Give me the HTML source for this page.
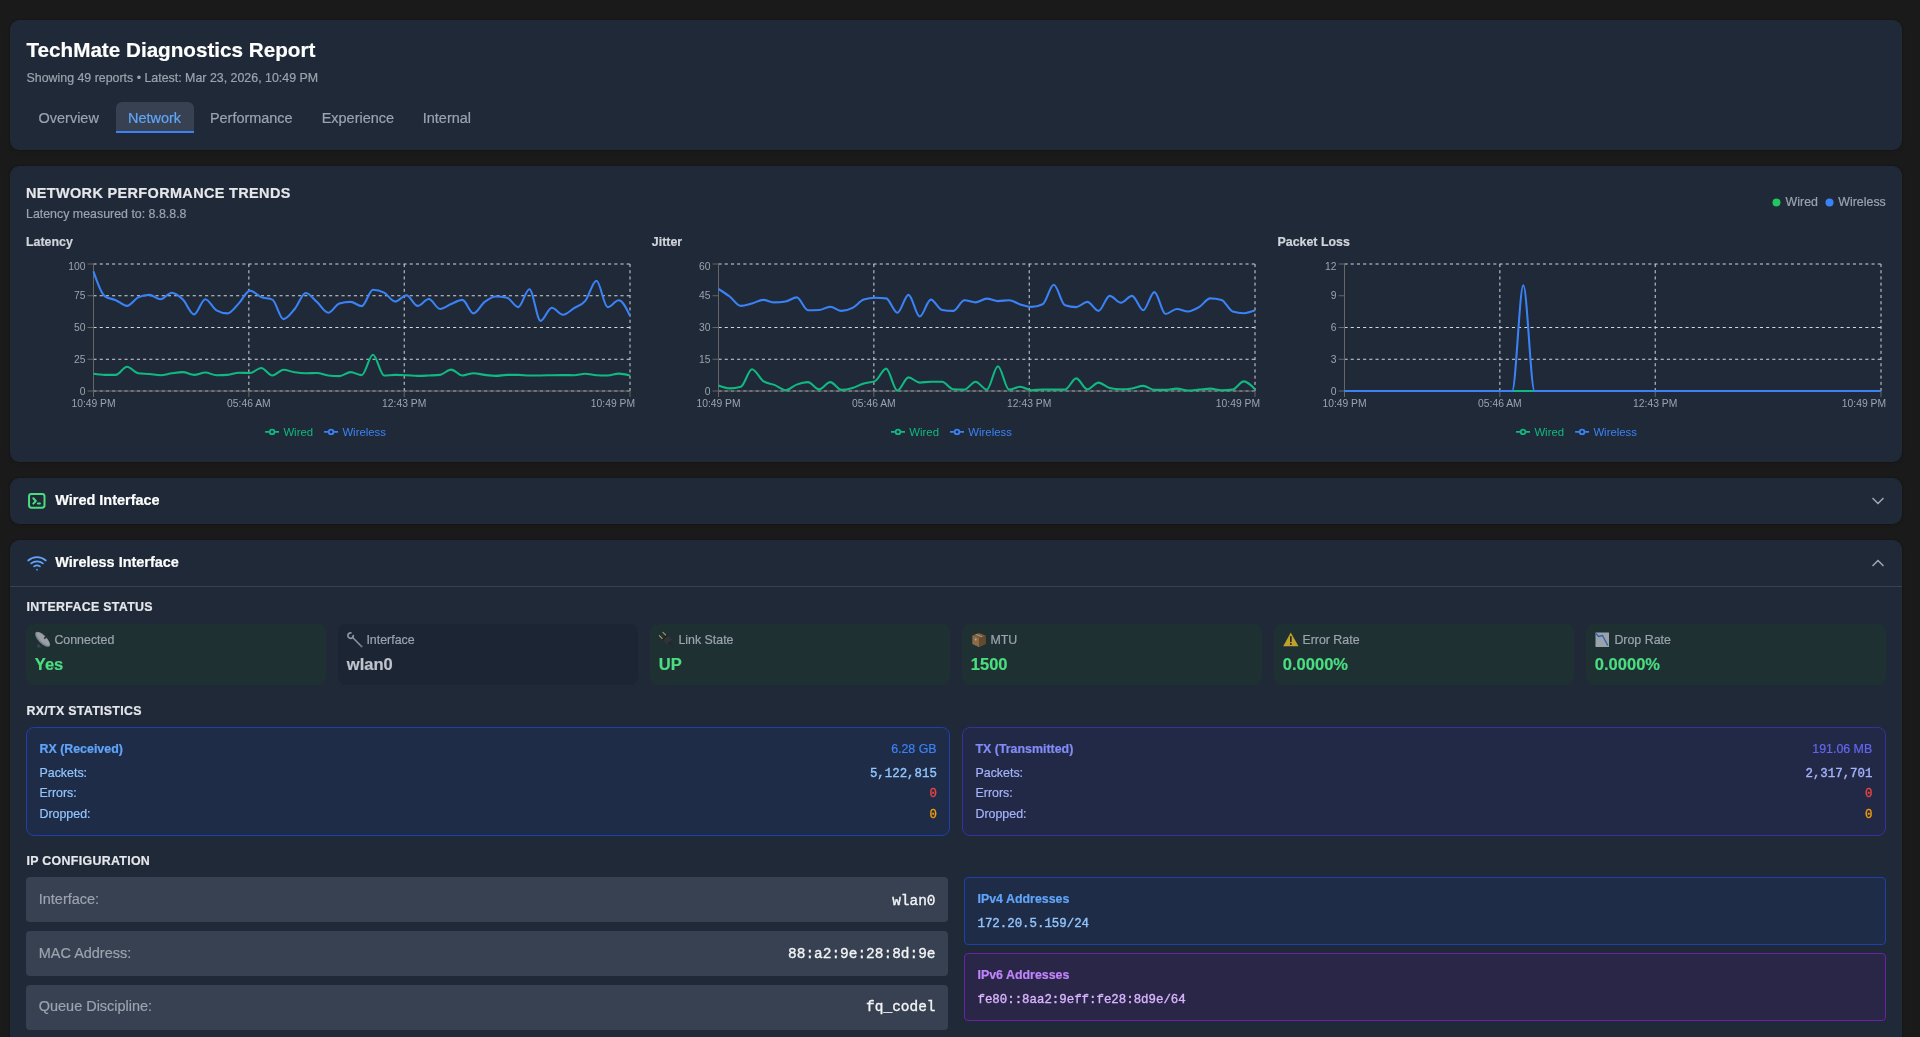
<!DOCTYPE html>
<html><head><meta charset="utf-8"><title>TechMate Diagnostics Report</title>
<style>
html,body{margin:0;padding:0;}
body{background:#1a1a1a;width:1920px;height:1037px;overflow:hidden;position:relative;font-family:'Liberation Sans', sans-serif;}
.t{position:absolute;white-space:pre;}
.r{position:absolute;}
#root{position:absolute;left:0;top:0;width:1920px;height:1037px;will-change:transform;}
svg.r{overflow:visible;}
</style></head><body><div id="root">
<div class="r" style="left:10px;top:20px;width:1892px;height:130px;background:#1f2937;border-radius:9px;box-shadow:0 0 1.5px rgba(0,0,0,0.45),0 1px 3px rgba(0,0,0,0.12);"></div>
<div class="t" style="top:39.81px;font-size:20.666px;line-height:20.666px;color:#ffffff;font-weight:700;font-family:'Liberation Sans', sans-serif;-webkit-text-stroke:0.2px currentColor;left:26.50px;">TechMate Diagnostics Report</div>
<div class="t" style="top:72.30px;font-size:12.4px;line-height:12.4px;color:#9ca3af;font-weight:400;font-family:'Liberation Sans', sans-serif;-webkit-text-stroke:0.2px currentColor;left:26.50px;">Showing 49 reports &bull; Latest: Mar 23, 2026, 10:49 PM</div>
<div class="r" style="left:115.6px;top:102.3px;width:78.4px;height:31.0px;background:#374151;border-radius:0px;border-radius:6px 6px 0 0;"></div>
<div class="r" style="left:115.6px;top:131.3px;width:78.4px;height:2px;background:#3b82f6;border-radius:0px;"></div>
<div class="t" style="top:110.65px;font-size:14.466px;line-height:14.466px;color:#9ca3af;font-weight:400;font-family:'Liberation Sans', sans-serif;-webkit-text-stroke:0.2px currentColor;left:38.60px;">Overview</div>
<div class="t" style="top:110.65px;font-size:14.466px;line-height:14.466px;color:#60a5fa;font-weight:400;font-family:'Liberation Sans', sans-serif;-webkit-text-stroke:0.2px currentColor;left:128.10px;">Network</div>
<div class="t" style="top:110.65px;font-size:14.466px;line-height:14.466px;color:#9ca3af;font-weight:400;font-family:'Liberation Sans', sans-serif;-webkit-text-stroke:0.2px currentColor;left:209.90px;">Performance</div>
<div class="t" style="top:110.65px;font-size:14.466px;line-height:14.466px;color:#9ca3af;font-weight:400;font-family:'Liberation Sans', sans-serif;-webkit-text-stroke:0.2px currentColor;left:321.70px;">Experience</div>
<div class="t" style="top:110.65px;font-size:14.466px;line-height:14.466px;color:#9ca3af;font-weight:400;font-family:'Liberation Sans', sans-serif;-webkit-text-stroke:0.2px currentColor;left:422.80px;">Internal</div>
<div class="r" style="left:10px;top:166px;width:1892px;height:296px;background:#1f2937;border-radius:9px;box-shadow:0 0 1.5px rgba(0,0,0,0.45),0 1px 3px rgba(0,0,0,0.12);"></div>
<div class="t" style="top:185.55px;font-size:14.466px;line-height:14.466px;color:#e5e7eb;font-weight:700;font-family:'Liberation Sans', sans-serif;letter-spacing:0.36px;-webkit-text-stroke:0.2px currentColor;left:26.00px;">NETWORK PERFORMANCE TRENDS</div>
<div class="t" style="top:207.70px;font-size:12.4px;line-height:12.4px;color:#9ca3af;font-weight:400;font-family:'Liberation Sans', sans-serif;-webkit-text-stroke:0.2px currentColor;left:26.00px;">Latency measured to: 8.8.8.8</div>
<svg class="r" style="left:1772.1px;top:197.9px;" width="9" height="9" viewBox="0 0 9 9"><circle cx="4.5" cy="4.5" r="4" fill="#22c55e"/></svg>
<div class="t" style="top:196.20px;font-size:12.4px;line-height:12.4px;color:#9ca3af;font-weight:400;font-family:'Liberation Sans', sans-serif;-webkit-text-stroke:0.2px currentColor;left:1785.60px;">Wired</div>
<svg class="r" style="left:1825.2px;top:197.9px;" width="9" height="9" viewBox="0 0 9 9"><circle cx="4.5" cy="4.5" r="4" fill="#3b82f6"/></svg>
<div class="t" style="top:196.20px;font-size:12.4px;line-height:12.4px;color:#9ca3af;font-weight:400;font-family:'Liberation Sans', sans-serif;-webkit-text-stroke:0.2px currentColor;left:1838.30px;">Wireless</div>
<div class="t" style="top:235.90px;font-size:12.4px;line-height:12.4px;color:#d1d5db;font-weight:700;font-family:'Liberation Sans', sans-serif;-webkit-text-stroke:0.2px currentColor;left:26.00px;">Latency</div>
<div class="t" style="top:235.90px;font-size:12.4px;line-height:12.4px;color:#d1d5db;font-weight:700;font-family:'Liberation Sans', sans-serif;-webkit-text-stroke:0.2px currentColor;left:651.80px;">Jitter</div>
<div class="t" style="top:235.90px;font-size:12.4px;line-height:12.4px;color:#d1d5db;font-weight:700;font-family:'Liberation Sans', sans-serif;-webkit-text-stroke:0.2px currentColor;left:1277.50px;">Packet Loss</div>
<svg class="r" style="left:0;top:0;overflow:visible" width="1920" height="1037" viewBox="0 0 1920 1037"><g stroke="#d5d7dc" stroke-dasharray="3.1 3.1" fill="none"><line x1="93.5" y1="391.0" x2="630.0" y2="391.0"/><line x1="93.5" y1="359.25" x2="630.0" y2="359.25"/><line x1="93.5" y1="327.5" x2="630.0" y2="327.5"/><line x1="93.5" y1="295.75" x2="630.0" y2="295.75"/><line x1="93.5" y1="264.0" x2="630.0" y2="264.0"/><line x1="93.50" y1="264.0" x2="93.50" y2="391.0"/><line x1="248.86" y1="264.0" x2="248.86" y2="391.0"/><line x1="404.22" y1="264.0" x2="404.22" y2="391.0"/><line x1="630.00" y1="264.0" x2="630.00" y2="391.0"/></g><g stroke="#666666" fill="none"><line x1="93.5" y1="391.0" x2="630.0" y2="391.0"/><line x1="93.5" y1="264.0" x2="93.5" y2="391.0"/><line x1="87.5" y1="391.0" x2="93.5" y2="391.0"/><line x1="87.5" y1="359.25" x2="93.5" y2="359.25"/><line x1="87.5" y1="327.5" x2="93.5" y2="327.5"/><line x1="87.5" y1="295.75" x2="93.5" y2="295.75"/><line x1="87.5" y1="264.0" x2="93.5" y2="264.0"/><line x1="93.50" y1="391.0" x2="93.50" y2="397.0"/><line x1="248.86" y1="391.0" x2="248.86" y2="397.0"/><line x1="404.22" y1="391.0" x2="404.22" y2="397.0"/><line x1="630.00" y1="391.0" x2="630.00" y2="397.0"/></g><g fill="#9ca3af" font-size="10.33" font-family="'Liberation Sans', sans-serif"><text x="85.5" y="394.55" text-anchor="end">0</text><text x="85.5" y="362.80" text-anchor="end">25</text><text x="85.5" y="331.05" text-anchor="end">50</text><text x="85.5" y="299.30" text-anchor="end">75</text><text x="85.5" y="270.45" text-anchor="end">100</text><text x="93.50" y="407.2" text-anchor="middle">10:49 PM</text><text x="248.86" y="407.2" text-anchor="middle">05:46 AM</text><text x="404.22" y="407.2" text-anchor="middle">12:43 PM</text><text x="635.00" y="407.2" text-anchor="end">10:49 PM</text></g><path d="M93.50,373.80C97.23,374.35,100.95,374.90,104.68,374.90C108.40,374.90,112.13,374.90,115.85,374.90C119.58,374.90,123.31,366.70,127.03,366.70C130.76,366.70,134.48,372.83,138.21,373.30C141.93,373.77,145.66,373.68,149.39,374.00C153.11,374.32,156.84,375.20,160.56,375.20C164.29,375.20,168.01,373.82,171.74,373.30C175.47,372.78,179.19,372.10,182.92,372.10C186.64,372.10,190.37,374.90,194.09,374.90C197.82,374.90,201.55,372.50,205.27,372.50C209.00,372.50,212.72,375.20,216.45,375.20C220.17,375.20,223.90,375.10,227.62,374.90C231.35,374.70,235.08,372.70,238.80,372.70C242.53,372.70,246.25,373.00,249.98,373.00C253.70,373.00,257.43,368.00,261.16,368.00C264.88,368.00,268.61,375.50,272.33,375.50C276.06,375.50,279.78,369.80,283.51,369.80C287.24,369.80,290.96,371.72,294.69,372.30C298.41,372.88,302.14,373.30,305.86,373.30C309.59,373.30,313.32,373.00,317.04,373.00C320.77,373.00,324.49,375.10,328.22,375.50C331.94,375.90,335.67,376.10,339.40,376.10C343.12,376.10,346.85,372.10,350.57,372.10C354.30,372.10,358.02,375.10,361.75,375.10C365.48,375.10,369.20,354.80,372.93,354.80C376.65,354.80,380.38,375.50,384.10,375.50C387.83,375.50,391.56,374.90,395.28,374.90C399.01,374.90,402.73,375.03,406.46,375.20C410.18,375.37,413.91,375.90,417.64,375.90C421.36,375.90,425.09,375.67,428.81,375.50C432.54,375.33,436.26,375.30,439.99,374.90C443.72,374.50,447.44,369.60,451.17,369.60C454.89,369.60,458.62,375.50,462.34,375.50C466.07,375.50,469.80,373.20,473.52,373.20C477.25,373.20,480.97,374.45,484.70,374.90C488.42,375.35,492.15,375.90,495.88,375.90C499.60,375.90,503.33,374.90,507.05,374.90C510.78,374.90,514.50,374.90,518.23,374.90C521.95,374.90,525.68,375.50,529.41,375.50C533.13,375.50,536.86,375.50,540.58,375.50C544.31,375.50,548.03,375.27,551.76,375.20C555.49,375.13,559.21,375.10,562.94,375.10C566.66,375.10,570.39,375.20,574.11,375.20C577.84,375.20,581.57,373.80,585.29,373.80C589.02,373.80,592.74,375.00,596.47,375.20C600.19,375.40,603.92,375.50,607.65,375.50C611.37,375.50,615.10,373.60,618.82,373.60C622.55,373.60,626.27,374.55,630.00,375.50" fill="none" stroke="#10b981" stroke-width="2.07"/><path d="M93.50,271.40C97.23,282.38,100.95,293.37,104.68,296.10C108.40,298.83,112.13,298.57,115.85,300.20C119.58,301.83,123.31,305.90,127.03,305.90C130.76,305.90,134.48,299.07,138.21,297.40C141.93,295.73,145.66,294.90,149.39,294.90C153.11,294.90,156.84,299.20,160.56,299.20C164.29,299.20,168.01,292.70,171.74,292.70C175.47,292.70,179.19,295.98,182.92,299.60C186.64,303.22,190.37,314.40,194.09,314.40C197.82,314.40,201.55,299.20,205.27,299.20C209.00,299.20,212.72,308.23,216.45,310.30C220.17,312.37,223.90,313.40,227.62,313.40C231.35,313.40,235.08,307.20,238.80,303.40C242.53,299.60,246.25,290.60,249.98,290.60C253.70,290.60,257.43,295.60,261.16,297.10C264.88,298.60,268.61,297.93,272.33,299.60C276.06,301.27,279.78,319.10,283.51,319.10C287.24,319.10,290.96,313.35,294.69,309.00C298.41,304.65,302.14,293.00,305.86,293.00C309.59,293.00,313.32,298.80,317.04,302.10C320.77,305.40,324.49,312.80,328.22,312.80C331.94,312.80,335.67,304.40,339.40,303.40C343.12,302.40,346.85,301.90,350.57,301.90C354.30,301.90,358.02,306.10,361.75,306.10C365.48,306.10,369.20,289.80,372.93,289.80C376.65,289.80,380.38,290.77,384.10,292.70C387.83,294.63,391.56,301.50,395.28,301.50C399.01,301.50,402.73,295.20,406.46,295.20C410.18,295.20,413.91,305.90,417.64,305.90C421.36,305.90,425.09,299.00,428.81,299.00C432.54,299.00,436.26,309.00,439.99,309.00C443.72,309.00,447.44,305.52,451.17,304.00C454.89,302.48,458.62,299.90,462.34,299.90C466.07,299.90,469.80,313.40,473.52,313.40C477.25,313.40,480.97,304.72,484.70,301.90C488.42,299.08,492.15,296.50,495.88,296.50C499.60,296.50,503.33,296.90,507.05,297.70C510.78,298.50,514.50,307.10,518.23,307.10C521.95,307.10,525.68,289.30,529.41,289.30C533.13,289.30,536.86,320.90,540.58,320.90C544.31,320.90,548.03,307.80,551.76,307.80C555.49,307.80,559.21,314.70,562.94,314.70C566.66,314.70,570.39,310.40,574.11,308.10C577.84,305.80,581.57,305.45,585.29,300.90C589.02,296.35,592.74,280.80,596.47,280.80C600.19,280.80,603.92,307.10,607.65,307.10C611.37,307.10,615.10,300.20,618.82,300.20C622.55,300.20,626.27,308.05,630.00,315.90" fill="none" stroke="#3b82f6" stroke-width="2.07"/><svg x="265.10" y="424.90" width="14" height="14" viewBox="0 0 32 32"><path stroke-width="4" fill="none" stroke="#10b981" d="M0,16h10.666666666666666A5.333333333333333,5.333333333333333,0,1,1,21.333333333333332,16H32M21.333333333333332,16A5.333333333333333,5.333333333333333,0,1,1,10.666666666666666,16"/></svg><text x="283.40" y="435.9" fill="#10b981" font-size="11.37" font-family="'Liberation Sans', sans-serif">Wired</text><svg x="324.10" y="424.90" width="14" height="14" viewBox="0 0 32 32"><path stroke-width="4" fill="none" stroke="#3b82f6" d="M0,16h10.666666666666666A5.333333333333333,5.333333333333333,0,1,1,21.333333333333332,16H32M21.333333333333332,16A5.333333333333333,5.333333333333333,0,1,1,10.666666666666666,16"/></svg><text x="342.40" y="435.9" fill="#3b82f6" font-size="11.37" font-family="'Liberation Sans', sans-serif">Wireless</text><g stroke="#d5d7dc" stroke-dasharray="3.1 3.1" fill="none"><line x1="718.5" y1="391.0" x2="1255.0" y2="391.0"/><line x1="718.5" y1="359.25" x2="1255.0" y2="359.25"/><line x1="718.5" y1="327.5" x2="1255.0" y2="327.5"/><line x1="718.5" y1="264.0" x2="1255.0" y2="264.0"/><line x1="718.50" y1="264.0" x2="718.50" y2="391.0"/><line x1="873.86" y1="264.0" x2="873.86" y2="391.0"/><line x1="1029.22" y1="264.0" x2="1029.22" y2="391.0"/><line x1="1255.00" y1="264.0" x2="1255.00" y2="391.0"/></g><g stroke="#666666" fill="none"><line x1="718.5" y1="391.0" x2="1255.0" y2="391.0"/><line x1="718.5" y1="264.0" x2="718.5" y2="391.0"/><line x1="712.5" y1="391.0" x2="718.5" y2="391.0"/><line x1="712.5" y1="359.25" x2="718.5" y2="359.25"/><line x1="712.5" y1="327.5" x2="718.5" y2="327.5"/><line x1="712.5" y1="295.75" x2="718.5" y2="295.75"/><line x1="712.5" y1="264.0" x2="718.5" y2="264.0"/><line x1="718.50" y1="391.0" x2="718.50" y2="397.0"/><line x1="873.86" y1="391.0" x2="873.86" y2="397.0"/><line x1="1029.22" y1="391.0" x2="1029.22" y2="397.0"/><line x1="1255.00" y1="391.0" x2="1255.00" y2="397.0"/></g><g fill="#9ca3af" font-size="10.33" font-family="'Liberation Sans', sans-serif"><text x="710.5" y="394.55" text-anchor="end">0</text><text x="710.5" y="362.80" text-anchor="end">15</text><text x="710.5" y="331.05" text-anchor="end">30</text><text x="710.5" y="299.30" text-anchor="end">45</text><text x="710.5" y="270.45" text-anchor="end">60</text><text x="718.50" y="407.2" text-anchor="middle">10:49 PM</text><text x="873.86" y="407.2" text-anchor="middle">05:46 AM</text><text x="1029.22" y="407.2" text-anchor="middle">12:43 PM</text><text x="1260.00" y="407.2" text-anchor="end">10:49 PM</text></g><path d="M718.50,385.50C722.23,386.95,725.95,388.40,729.68,388.40C733.40,388.40,737.13,387.87,740.85,386.80C744.58,385.73,748.31,369.20,752.03,369.20C755.76,369.20,759.48,378.57,763.21,381.10C766.93,383.63,770.66,383.38,774.39,384.90C778.11,386.42,781.84,390.20,785.56,390.20C789.29,390.20,793.01,385.95,796.74,384.60C800.47,383.25,804.19,382.10,807.92,382.10C811.64,382.10,815.37,389.30,819.09,389.30C822.82,389.30,826.55,382.10,830.27,382.10C834.00,382.10,837.72,389.90,841.45,389.90C845.17,389.90,848.90,389.08,852.62,388.00C856.35,386.92,860.08,384.55,863.80,383.40C867.53,382.25,871.25,382.63,874.98,381.10C878.70,379.57,882.43,368.60,886.16,368.60C889.88,368.60,893.61,390.50,897.33,390.50C901.06,390.50,904.78,377.40,908.51,377.40C912.24,377.40,915.96,382.60,919.69,382.60C923.41,382.60,927.14,381.70,930.86,381.70C934.59,381.70,938.32,381.70,942.04,381.70C945.77,381.70,949.49,389.10,953.22,389.30C956.94,389.50,960.67,389.60,964.40,389.60C968.12,389.60,971.85,381.70,975.57,381.70C979.30,381.70,983.02,389.60,986.75,389.60C990.48,389.60,994.20,366.30,997.93,366.30C1001.65,366.30,1005.38,389.60,1009.10,389.60C1012.83,389.60,1016.56,386.80,1020.28,386.80C1024.01,386.80,1027.73,390.20,1031.46,390.20C1035.18,390.20,1038.91,389.50,1042.64,389.50C1046.36,389.50,1050.09,389.60,1053.81,389.60C1057.54,389.60,1061.26,389.60,1064.99,389.60C1068.72,389.60,1072.44,378.40,1076.17,378.40C1079.89,378.40,1083.62,389.30,1087.34,389.30C1091.07,389.30,1094.80,382.60,1098.52,382.60C1102.25,382.60,1105.97,387.13,1109.70,388.00C1113.42,388.87,1117.15,389.30,1120.88,389.30C1124.60,389.30,1128.33,388.97,1132.05,388.40C1135.78,387.83,1139.50,385.90,1143.23,385.90C1146.95,385.90,1150.68,389.90,1154.41,389.90C1158.13,389.90,1161.86,389.90,1165.58,389.90C1169.31,389.90,1173.03,388.60,1176.76,388.60C1180.49,388.60,1184.21,390.50,1187.94,390.50C1191.66,390.50,1195.39,389.92,1199.11,389.60C1202.84,389.28,1206.57,388.60,1210.29,388.60C1214.02,388.60,1217.74,390.20,1221.47,390.20C1225.19,390.20,1228.92,390.00,1232.65,389.60C1236.37,389.20,1240.10,381.40,1243.82,381.40C1247.55,381.40,1251.27,385.35,1255.00,389.30" fill="none" stroke="#10b981" stroke-width="2.07"/><path d="M718.50,289.00C722.23,291.34,725.95,293.68,729.68,296.50C733.40,299.32,737.13,305.90,740.85,305.90C744.58,305.90,748.31,304.40,752.03,303.40C755.76,302.40,759.48,299.90,763.21,299.90C766.93,299.90,770.66,302.40,774.39,302.40C778.11,302.40,781.84,302.10,785.56,301.50C789.29,300.90,793.01,297.40,796.74,297.40C800.47,297.40,804.19,310.30,807.92,310.30C811.64,310.30,815.37,310.20,819.09,310.00C822.82,309.80,826.55,306.70,830.27,306.70C834.00,306.70,837.72,310.90,841.45,310.90C845.17,310.90,848.90,309.68,852.62,307.80C856.35,305.92,860.08,300.87,863.80,299.60C867.53,298.33,871.25,297.70,874.98,297.70C878.70,297.70,882.43,297.93,886.16,298.40C889.88,298.87,893.61,312.80,897.33,312.80C901.06,312.80,904.78,294.90,908.51,294.90C912.24,294.90,915.96,316.50,919.69,316.50C923.41,316.50,927.14,299.60,930.86,299.60C934.59,299.60,938.32,309.23,942.04,309.90C945.77,310.57,949.49,310.90,953.22,310.90C956.94,310.90,960.67,300.20,964.40,300.20C968.12,300.20,971.85,302.40,975.57,302.40C979.30,302.40,983.02,298.60,986.75,298.60C990.48,298.60,994.20,301.10,997.93,301.10C1001.65,301.10,1005.38,300.20,1009.10,300.20C1012.83,300.20,1016.56,303.28,1020.28,304.40C1024.01,305.52,1027.73,306.90,1031.46,306.90C1035.18,306.90,1038.91,306.03,1042.64,304.30C1046.36,302.57,1050.09,284.80,1053.81,284.80C1057.54,284.80,1061.26,304.10,1064.99,305.30C1068.72,306.50,1072.44,307.10,1076.17,307.10C1079.89,307.10,1083.62,301.90,1087.34,301.90C1091.07,301.90,1094.80,310.90,1098.52,310.90C1102.25,310.90,1105.97,295.90,1109.70,295.90C1113.42,295.90,1117.15,302.80,1120.88,302.80C1124.60,302.80,1128.33,295.90,1132.05,295.90C1135.78,295.90,1139.50,310.30,1143.23,310.30C1146.95,310.30,1150.68,292.10,1154.41,292.10C1158.13,292.10,1161.86,314.00,1165.58,314.00C1169.31,314.00,1173.03,309.00,1176.76,309.00C1180.49,309.00,1184.21,311.50,1187.94,311.50C1191.66,311.50,1195.39,309.28,1199.11,307.10C1202.84,304.92,1206.57,298.40,1210.29,298.40C1214.02,298.40,1217.74,298.90,1221.47,299.90C1225.19,300.90,1228.92,310.37,1232.65,311.50C1236.37,312.63,1240.10,313.20,1243.82,313.20C1247.55,313.20,1251.27,311.75,1255.00,310.30" fill="none" stroke="#3b82f6" stroke-width="2.07"/><svg x="891.00" y="424.90" width="14" height="14" viewBox="0 0 32 32"><path stroke-width="4" fill="none" stroke="#10b981" d="M0,16h10.666666666666666A5.333333333333333,5.333333333333333,0,1,1,21.333333333333332,16H32M21.333333333333332,16A5.333333333333333,5.333333333333333,0,1,1,10.666666666666666,16"/></svg><text x="909.30" y="435.9" fill="#10b981" font-size="11.37" font-family="'Liberation Sans', sans-serif">Wired</text><svg x="950.00" y="424.90" width="14" height="14" viewBox="0 0 32 32"><path stroke-width="4" fill="none" stroke="#3b82f6" d="M0,16h10.666666666666666A5.333333333333333,5.333333333333333,0,1,1,21.333333333333332,16H32M21.333333333333332,16A5.333333333333333,5.333333333333333,0,1,1,10.666666666666666,16"/></svg><text x="968.30" y="435.9" fill="#3b82f6" font-size="11.37" font-family="'Liberation Sans', sans-serif">Wireless</text><g stroke="#d5d7dc" stroke-dasharray="3.1 3.1" fill="none"><line x1="1344.5" y1="391.0" x2="1881.0" y2="391.0"/><line x1="1344.5" y1="359.25" x2="1881.0" y2="359.25"/><line x1="1344.5" y1="327.5" x2="1881.0" y2="327.5"/><line x1="1344.5" y1="264.0" x2="1881.0" y2="264.0"/><line x1="1344.50" y1="264.0" x2="1344.50" y2="391.0"/><line x1="1499.86" y1="264.0" x2="1499.86" y2="391.0"/><line x1="1655.22" y1="264.0" x2="1655.22" y2="391.0"/><line x1="1881.00" y1="264.0" x2="1881.00" y2="391.0"/></g><g stroke="#666666" fill="none"><line x1="1344.5" y1="391.0" x2="1881.0" y2="391.0"/><line x1="1344.5" y1="264.0" x2="1344.5" y2="391.0"/><line x1="1338.5" y1="391.0" x2="1344.5" y2="391.0"/><line x1="1338.5" y1="359.25" x2="1344.5" y2="359.25"/><line x1="1338.5" y1="327.5" x2="1344.5" y2="327.5"/><line x1="1338.5" y1="295.75" x2="1344.5" y2="295.75"/><line x1="1338.5" y1="264.0" x2="1344.5" y2="264.0"/><line x1="1344.50" y1="391.0" x2="1344.50" y2="397.0"/><line x1="1499.86" y1="391.0" x2="1499.86" y2="397.0"/><line x1="1655.22" y1="391.0" x2="1655.22" y2="397.0"/><line x1="1881.00" y1="391.0" x2="1881.00" y2="397.0"/></g><g fill="#9ca3af" font-size="10.33" font-family="'Liberation Sans', sans-serif"><text x="1336.5" y="394.55" text-anchor="end">0</text><text x="1336.5" y="362.80" text-anchor="end">3</text><text x="1336.5" y="331.05" text-anchor="end">6</text><text x="1336.5" y="299.30" text-anchor="end">9</text><text x="1336.5" y="270.45" text-anchor="end">12</text><text x="1344.50" y="407.2" text-anchor="middle">10:49 PM</text><text x="1499.86" y="407.2" text-anchor="middle">05:46 AM</text><text x="1655.22" y="407.2" text-anchor="middle">12:43 PM</text><text x="1886.00" y="407.2" text-anchor="end">10:49 PM</text></g><path d="M1344.50,391.00C1348.23,391.00,1351.95,391.00,1355.68,391.00C1359.40,391.00,1363.13,391.00,1366.85,391.00C1370.58,391.00,1374.31,391.00,1378.03,391.00C1381.76,391.00,1385.48,391.00,1389.21,391.00C1392.93,391.00,1396.66,391.00,1400.39,391.00C1404.11,391.00,1407.84,391.00,1411.56,391.00C1415.29,391.00,1419.01,391.00,1422.74,391.00C1426.47,391.00,1430.19,391.00,1433.92,391.00C1437.64,391.00,1441.37,391.00,1445.09,391.00C1448.82,391.00,1452.55,391.00,1456.27,391.00C1460.00,391.00,1463.72,391.00,1467.45,391.00C1471.17,391.00,1474.90,391.00,1478.62,391.00C1482.35,391.00,1486.08,391.00,1489.80,391.00C1493.53,391.00,1497.25,391.00,1500.98,391.00C1504.70,391.00,1508.43,391.00,1512.16,391.00C1515.88,391.00,1519.61,391.00,1523.33,391.00C1527.06,391.00,1530.78,391.00,1534.51,391.00C1538.24,391.00,1541.96,391.00,1545.69,391.00C1549.41,391.00,1553.14,391.00,1556.86,391.00C1560.59,391.00,1564.32,391.00,1568.04,391.00C1571.77,391.00,1575.49,391.00,1579.22,391.00C1582.94,391.00,1586.67,391.00,1590.40,391.00C1594.12,391.00,1597.85,391.00,1601.57,391.00C1605.30,391.00,1609.02,391.00,1612.75,391.00C1616.48,391.00,1620.20,391.00,1623.93,391.00C1627.65,391.00,1631.38,391.00,1635.10,391.00C1638.83,391.00,1642.56,391.00,1646.28,391.00C1650.01,391.00,1653.73,391.00,1657.46,391.00C1661.18,391.00,1664.91,391.00,1668.64,391.00C1672.36,391.00,1676.09,391.00,1679.81,391.00C1683.54,391.00,1687.26,391.00,1690.99,391.00C1694.72,391.00,1698.44,391.00,1702.17,391.00C1705.89,391.00,1709.62,391.00,1713.34,391.00C1717.07,391.00,1720.80,391.00,1724.52,391.00C1728.25,391.00,1731.97,391.00,1735.70,391.00C1739.42,391.00,1743.15,391.00,1746.88,391.00C1750.60,391.00,1754.33,391.00,1758.05,391.00C1761.78,391.00,1765.50,391.00,1769.23,391.00C1772.95,391.00,1776.68,391.00,1780.41,391.00C1784.13,391.00,1787.86,391.00,1791.58,391.00C1795.31,391.00,1799.03,391.00,1802.76,391.00C1806.49,391.00,1810.21,391.00,1813.94,391.00C1817.66,391.00,1821.39,391.00,1825.11,391.00C1828.84,391.00,1832.57,391.00,1836.29,391.00C1840.02,391.00,1843.74,391.00,1847.47,391.00C1851.19,391.00,1854.92,391.00,1858.65,391.00C1862.37,391.00,1866.10,391.00,1869.82,391.00C1873.55,391.00,1877.27,391.00,1881.00,391.00" fill="none" stroke="#10b981" stroke-width="2.07"/><path d="M1344.50,391.00C1348.23,391.00,1351.95,391.00,1355.68,391.00C1359.40,391.00,1363.13,391.00,1366.85,391.00C1370.58,391.00,1374.31,391.00,1378.03,391.00C1381.76,391.00,1385.48,391.00,1389.21,391.00C1392.93,391.00,1396.66,391.00,1400.39,391.00C1404.11,391.00,1407.84,391.00,1411.56,391.00C1415.29,391.00,1419.01,391.00,1422.74,391.00C1426.47,391.00,1430.19,391.00,1433.92,391.00C1437.64,391.00,1441.37,391.00,1445.09,391.00C1448.82,391.00,1452.55,391.00,1456.27,391.00C1460.00,391.00,1463.72,391.00,1467.45,391.00C1471.17,391.00,1474.90,391.00,1478.62,391.00C1482.35,391.00,1486.08,391.00,1489.80,391.00C1493.53,391.00,1497.25,391.00,1500.98,391.00C1504.70,391.00,1508.43,391.00,1512.16,391.00C1515.88,391.00,1519.61,285.20,1523.33,285.20C1527.06,285.20,1530.78,391.00,1534.51,391.00C1538.24,391.00,1541.96,391.00,1545.69,391.00C1549.41,391.00,1553.14,391.00,1556.86,391.00C1560.59,391.00,1564.32,391.00,1568.04,391.00C1571.77,391.00,1575.49,391.00,1579.22,391.00C1582.94,391.00,1586.67,391.00,1590.40,391.00C1594.12,391.00,1597.85,391.00,1601.57,391.00C1605.30,391.00,1609.02,391.00,1612.75,391.00C1616.48,391.00,1620.20,391.00,1623.93,391.00C1627.65,391.00,1631.38,391.00,1635.10,391.00C1638.83,391.00,1642.56,391.00,1646.28,391.00C1650.01,391.00,1653.73,391.00,1657.46,391.00C1661.18,391.00,1664.91,391.00,1668.64,391.00C1672.36,391.00,1676.09,391.00,1679.81,391.00C1683.54,391.00,1687.26,391.00,1690.99,391.00C1694.72,391.00,1698.44,391.00,1702.17,391.00C1705.89,391.00,1709.62,391.00,1713.34,391.00C1717.07,391.00,1720.80,391.00,1724.52,391.00C1728.25,391.00,1731.97,391.00,1735.70,391.00C1739.42,391.00,1743.15,391.00,1746.88,391.00C1750.60,391.00,1754.33,391.00,1758.05,391.00C1761.78,391.00,1765.50,391.00,1769.23,391.00C1772.95,391.00,1776.68,391.00,1780.41,391.00C1784.13,391.00,1787.86,391.00,1791.58,391.00C1795.31,391.00,1799.03,391.00,1802.76,391.00C1806.49,391.00,1810.21,391.00,1813.94,391.00C1817.66,391.00,1821.39,391.00,1825.11,391.00C1828.84,391.00,1832.57,391.00,1836.29,391.00C1840.02,391.00,1843.74,391.00,1847.47,391.00C1851.19,391.00,1854.92,391.00,1858.65,391.00C1862.37,391.00,1866.10,391.00,1869.82,391.00C1873.55,391.00,1877.27,391.00,1881.00,391.00" fill="none" stroke="#3b82f6" stroke-width="2.07"/><svg x="1516.10" y="424.90" width="14" height="14" viewBox="0 0 32 32"><path stroke-width="4" fill="none" stroke="#10b981" d="M0,16h10.666666666666666A5.333333333333333,5.333333333333333,0,1,1,21.333333333333332,16H32M21.333333333333332,16A5.333333333333333,5.333333333333333,0,1,1,10.666666666666666,16"/></svg><text x="1534.40" y="435.9" fill="#10b981" font-size="11.37" font-family="'Liberation Sans', sans-serif">Wired</text><svg x="1575.10" y="424.90" width="14" height="14" viewBox="0 0 32 32"><path stroke-width="4" fill="none" stroke="#3b82f6" d="M0,16h10.666666666666666A5.333333333333333,5.333333333333333,0,1,1,21.333333333333332,16H32M21.333333333333332,16A5.333333333333333,5.333333333333333,0,1,1,10.666666666666666,16"/></svg><text x="1593.40" y="435.9" fill="#3b82f6" font-size="11.37" font-family="'Liberation Sans', sans-serif">Wireless</text></svg>
<div class="r" style="left:10px;top:478px;width:1892px;height:46px;background:#1f2937;border-radius:9px;box-shadow:0 0 1.5px rgba(0,0,0,0.45),0 1px 3px rgba(0,0,0,0.12);"></div>
<svg class="r" style="left:0px;top:0px;" width="60" height="520" viewBox="0 0 60 520"><g fill="none" stroke="#4ade80" stroke-width="2" stroke-linecap="round" stroke-linejoin="round"><rect x="29.05" y="494.05" width="15.45" height="13.65" rx="2.4"/><path d="M33.3 498.3 L35.8 500.95 L33.3 503.6"/><path d="M37.9 503.5 H39.9"/></g></svg>
<div class="t" style="top:493.35px;font-size:14.466px;line-height:14.466px;color:#ffffff;font-weight:700;font-family:'Liberation Sans', sans-serif;-webkit-text-stroke:0.2px currentColor;left:55.30px;">Wired Interface</div>
<svg class="r" style="left:1867.8px;top:491.3px;" width="20" height="20" viewBox="0 0 24 24"><path d="m6 9 6 6 6-6" fill="none" stroke="#9ca3af" stroke-width="2" stroke-linecap="round" stroke-linejoin="round"/></svg>
<div class="r" style="left:10px;top:540px;width:1892px;height:560px;background:#1f2937;border-radius:9px;box-shadow:0 0 1.5px rgba(0,0,0,0.45),0 1px 3px rgba(0,0,0,0.12);"></div>
<div class="r" style="left:10px;top:586px;width:1892px;height:1px;background:#374151;border-radius:0px;"></div>
<svg class="r" style="left:26.7px;top:553px;" width="20" height="20" viewBox="0 0 24 24"><g fill="none" stroke="#60a5fa" stroke-width="2" stroke-linecap="round" stroke-linejoin="round"><path d="M5 12.55a11 11 0 0 1 14.08 0"/><path d="M1.42 9a16 16 0 0 1 21.16 0"/><path d="M8.53 16.11a6 6 0 0 1 6.95 0"/><path d="M12 20h.01"/></g></svg>
<div class="t" style="top:555.35px;font-size:14.466px;line-height:14.466px;color:#ffffff;font-weight:700;font-family:'Liberation Sans', sans-serif;-webkit-text-stroke:0.2px currentColor;left:55.30px;">Wireless Interface</div>
<svg class="r" style="left:1867.8px;top:552.7px;" width="20" height="20" viewBox="0 0 24 24"><path d="m18 15-6-6-6 6" fill="none" stroke="#9ca3af" stroke-width="2" stroke-linecap="round" stroke-linejoin="round"/></svg>
<div class="t" style="top:601.30px;font-size:12.4px;line-height:12.4px;color:#e5e7eb;font-weight:700;font-family:'Liberation Sans', sans-serif;letter-spacing:0.31px;-webkit-text-stroke:0.2px currentColor;left:26.50px;">INTERFACE STATUS</div>
<div class="r" style="left:26px;top:624px;width:300px;height:60.5px;background:#1f3033;border-radius:8px;"></div>
<svg class="r" style="left:34.5px;top:631.8px;" width="16" height="16" viewBox="0 0 16 16"><g transform="translate(7.6 7.3) rotate(45)"><ellipse rx="9.8" ry="4.1" fill="#7d848d"/><ellipse cx="0" cy="-0.5" rx="8.8" ry="3.0" fill="#99a0a8"/></g><path d="M9.2 6.6 L13.2 2.6" stroke="#2a2d32" stroke-width="1.5"/><circle cx="13.7" cy="2.2" r="1.3" fill="#23262b"/><path d="M2.8 11.6 L6.4 15.2 L2.2 15.6 Z" fill="#3a475a"/></svg>
<div class="t" style="top:634.30px;font-size:12.4px;line-height:12.4px;color:#9ca3af;font-weight:400;font-family:'Liberation Sans', sans-serif;-webkit-text-stroke:0.2px currentColor;left:54.40px;">Connected</div>
<div class="t" style="top:657.40px;font-size:16.533px;line-height:16.533px;color:#4ade80;font-weight:700;font-family:'Liberation Sans', sans-serif;-webkit-text-stroke:0.2px currentColor;left:34.80px;">Yes</div>
<div class="r" style="left:338px;top:624px;width:300px;height:60.5px;background:rgba(17,24,39,0.2);border-radius:8px;"></div>
<svg class="r" style="left:346.5px;top:631.8px;" width="16" height="16" viewBox="0 0 16 16"><g fill="none" stroke-linecap="round"><path d="M6.3 3.6 A2.7 2.7 0 1 1 3.9 0.9" stroke="#8d96a3" stroke-width="1.7"/><path d="M5.4 5.3 L14.3 14.2" stroke="#8d96a3" stroke-width="1.5"/><circle cx="14.4" cy="14.3" r="0.9" stroke="#6e5a5a" stroke-width="1"/></g></svg>
<div class="t" style="top:634.30px;font-size:12.4px;line-height:12.4px;color:#9ca3af;font-weight:400;font-family:'Liberation Sans', sans-serif;-webkit-text-stroke:0.2px currentColor;left:366.40px;">Interface</div>
<div class="t" style="top:657.40px;font-size:16.533px;line-height:16.533px;color:#c0c4cc;font-weight:700;font-family:'Liberation Sans', sans-serif;-webkit-text-stroke:0.2px currentColor;left:346.80px;">wlan0</div>
<div class="r" style="left:650px;top:624px;width:300px;height:60.5px;background:#1f3033;border-radius:8px;"></div>
<svg class="r" style="left:658.5px;top:631.8px;" width="16" height="16" viewBox="0 0 16 16"><path d="M0.4 3.6 L4.2 7.6 M4.0 0.3 L8.0 4.3" stroke="#a39a55" stroke-width="1.2" stroke-linecap="round"/><path d="M3.0 7.6 L8.0 2.6 L12.8 7.6 L7.8 12.6z" fill="#303338"/><path d="M3.0 7.6 L8.0 2.6 L8.9 3.5 L3.9 8.5z" fill="#1e2024"/><path d="M9.3 11.3 L11.6 9.0 L15.6 14.6 L13.6 15.6z" fill="#25282c"/></svg>
<div class="t" style="top:634.30px;font-size:12.4px;line-height:12.4px;color:#9ca3af;font-weight:400;font-family:'Liberation Sans', sans-serif;-webkit-text-stroke:0.2px currentColor;left:678.40px;">Link State</div>
<div class="t" style="top:657.40px;font-size:16.533px;line-height:16.533px;color:#4ade80;font-weight:700;font-family:'Liberation Sans', sans-serif;-webkit-text-stroke:0.2px currentColor;left:658.80px;">UP</div>
<div class="r" style="left:962px;top:624px;width:300px;height:60.5px;background:#1f3033;border-radius:8px;"></div>
<svg class="r" style="left:970.5px;top:631.8px;" width="16" height="16" viewBox="0 0 16 16"><path d="M1.5 3.5 L8 1 L14.5 3.5 L14.5 12 L8 15 L1.5 12z" fill="#7a5a38"/><path d="M1.5 3.5 L8 6 L8 15 L1.5 12z" fill="#8b6a45"/><path d="M8 6 L14.5 3.5 L14.5 12 L8 15z" fill="#654a2e"/><path d="M4 2.5 L10.5 5 L12 4.4 L5.5 1.9z" fill="#a89a84"/><circle cx="4.7" cy="7.5" r="0.9" fill="#9fb3c8"/></svg>
<div class="t" style="top:634.30px;font-size:12.4px;line-height:12.4px;color:#9ca3af;font-weight:400;font-family:'Liberation Sans', sans-serif;-webkit-text-stroke:0.2px currentColor;left:990.40px;">MTU</div>
<div class="t" style="top:657.40px;font-size:16.533px;line-height:16.533px;color:#4ade80;font-weight:700;font-family:'Liberation Sans', sans-serif;-webkit-text-stroke:0.2px currentColor;left:970.80px;">1500</div>
<div class="r" style="left:1274px;top:624px;width:300px;height:60.5px;background:#1f3033;border-radius:8px;"></div>
<svg class="r" style="left:1282.5px;top:631.8px;" width="16" height="16" viewBox="0 0 16 16"><path d="M7.8 0.5 L15.5 14.3 L0.2 14.3z" fill="#bfa22c"/><rect x="7.1" y="4" width="1.5" height="6.3" rx="0.7" fill="#1a1a1a"/><circle cx="7.85" cy="12" r="0.9" fill="#1a1a1a"/></svg>
<div class="t" style="top:634.30px;font-size:12.4px;line-height:12.4px;color:#9ca3af;font-weight:400;font-family:'Liberation Sans', sans-serif;-webkit-text-stroke:0.2px currentColor;left:1302.40px;">Error Rate</div>
<div class="t" style="top:657.40px;font-size:16.533px;line-height:16.533px;color:#4ade80;font-weight:700;font-family:'Liberation Sans', sans-serif;-webkit-text-stroke:0.2px currentColor;left:1282.80px;">0.0000%</div>
<div class="r" style="left:1586px;top:624px;width:300px;height:60.5px;background:#1f3033;border-radius:8px;"></div>
<svg class="r" style="left:1594.5px;top:631.8px;" width="16" height="16" viewBox="0 0 16 16"><rect x="0.5" y="0.5" width="13.5" height="14.5" fill="#9aa3ab"/><path d="M1 1.5 L3.5 4.5 L7.5 3.5 L12.8 13.5" fill="none" stroke="#2f5fae" stroke-width="1.3"/></svg>
<div class="t" style="top:634.30px;font-size:12.4px;line-height:12.4px;color:#9ca3af;font-weight:400;font-family:'Liberation Sans', sans-serif;-webkit-text-stroke:0.2px currentColor;left:1614.40px;">Drop Rate</div>
<div class="t" style="top:657.40px;font-size:16.533px;line-height:16.533px;color:#4ade80;font-weight:700;font-family:'Liberation Sans', sans-serif;-webkit-text-stroke:0.2px currentColor;left:1594.80px;">0.0000%</div>
<div class="t" style="top:705.00px;font-size:12.4px;line-height:12.4px;color:#e5e7eb;font-weight:700;font-family:'Liberation Sans', sans-serif;letter-spacing:0.31px;-webkit-text-stroke:0.2px currentColor;left:26.50px;">RX/TX STATISTICS</div>
<div class="r" style="left:26px;top:727.2px;width:924px;height:108.7px;background:rgba(30,58,138,0.2);border-radius:8px;border:1px solid #1e40af;box-sizing:border-box;"></div>
<div class="t" style="top:743.00px;font-size:12.4px;line-height:12.4px;color:#60a5fa;font-weight:700;font-family:'Liberation Sans', sans-serif;-webkit-text-stroke:0.2px currentColor;left:39.50px;">RX (Received)</div>
<div class="t" style="top:743.00px;font-size:12.4px;line-height:12.4px;color:#3b82f6;font-weight:400;font-family:'Liberation Sans', sans-serif;-webkit-text-stroke:0.2px currentColor;right:983.40px;">6.28 GB</div>
<div class="t" style="top:766.80px;font-size:12.4px;line-height:12.4px;color:#93c5fd;font-weight:400;font-family:'Liberation Sans', sans-serif;-webkit-text-stroke:0.2px currentColor;left:39.50px;">Packets:</div>
<div class="t" style="top:787.00px;font-size:12.4px;line-height:12.4px;color:#93c5fd;font-weight:400;font-family:'Liberation Sans', sans-serif;-webkit-text-stroke:0.2px currentColor;left:39.50px;">Errors:</div>
<div class="t" style="top:807.80px;font-size:12.4px;line-height:12.4px;color:#93c5fd;font-weight:400;font-family:'Liberation Sans', sans-serif;-webkit-text-stroke:0.2px currentColor;left:39.50px;">Dropped:</div>
<div class="t" style="top:767.80px;font-size:12.4px;line-height:12.4px;color:#93c5fd;font-weight:400;font-family:'Liberation Mono', monospace;-webkit-text-stroke:0.35px currentColor;right:983.20px;">5,122,815</div>
<div class="t" style="top:788.00px;font-size:12.4px;line-height:12.4px;color:#ef4444;font-weight:400;font-family:'Liberation Mono', monospace;-webkit-text-stroke:0.35px currentColor;right:983.20px;">0</div>
<div class="t" style="top:808.80px;font-size:12.4px;line-height:12.4px;color:#f59e0b;font-weight:400;font-family:'Liberation Mono', monospace;-webkit-text-stroke:0.35px currentColor;right:983.20px;">0</div>
<div class="r" style="left:962px;top:727.3px;width:924px;height:108.6px;background:rgba(49,46,129,0.2);border-radius:8px;border:1px solid #3730a3;box-sizing:border-box;"></div>
<div class="t" style="top:743.00px;font-size:12.4px;line-height:12.4px;color:#818cf8;font-weight:700;font-family:'Liberation Sans', sans-serif;-webkit-text-stroke:0.2px currentColor;left:975.50px;">TX (Transmitted)</div>
<div class="t" style="top:743.00px;font-size:12.4px;line-height:12.4px;color:#6366f1;font-weight:400;font-family:'Liberation Sans', sans-serif;-webkit-text-stroke:0.2px currentColor;right:47.80px;">191.06 MB</div>
<div class="t" style="top:766.80px;font-size:12.4px;line-height:12.4px;color:#a5b4fc;font-weight:400;font-family:'Liberation Sans', sans-serif;-webkit-text-stroke:0.2px currentColor;left:975.50px;">Packets:</div>
<div class="t" style="top:787.00px;font-size:12.4px;line-height:12.4px;color:#a5b4fc;font-weight:400;font-family:'Liberation Sans', sans-serif;-webkit-text-stroke:0.2px currentColor;left:975.50px;">Errors:</div>
<div class="t" style="top:807.80px;font-size:12.4px;line-height:12.4px;color:#a5b4fc;font-weight:400;font-family:'Liberation Sans', sans-serif;-webkit-text-stroke:0.2px currentColor;left:975.50px;">Dropped:</div>
<div class="t" style="top:767.80px;font-size:12.4px;line-height:12.4px;color:#a5b4fc;font-weight:400;font-family:'Liberation Mono', monospace;-webkit-text-stroke:0.35px currentColor;right:47.60px;">2,317,701</div>
<div class="t" style="top:788.00px;font-size:12.4px;line-height:12.4px;color:#ef4444;font-weight:400;font-family:'Liberation Mono', monospace;-webkit-text-stroke:0.35px currentColor;right:47.60px;">0</div>
<div class="t" style="top:808.80px;font-size:12.4px;line-height:12.4px;color:#f59e0b;font-weight:400;font-family:'Liberation Mono', monospace;-webkit-text-stroke:0.35px currentColor;right:47.60px;">0</div>
<div class="t" style="top:855.10px;font-size:12.4px;line-height:12.4px;color:#e5e7eb;font-weight:700;font-family:'Liberation Sans', sans-serif;letter-spacing:0.31px;-webkit-text-stroke:0.2px currentColor;left:26.50px;">IP CONFIGURATION</div>
<div class="r" style="left:26px;top:877.2px;width:922px;height:45px;background:#374151;border-radius:4px;"></div>
<div class="t" style="top:892.35px;font-size:14.466px;line-height:14.466px;color:#9ca3af;font-weight:400;font-family:'Liberation Sans', sans-serif;-webkit-text-stroke:0.2px currentColor;left:38.80px;">Interface:</div>
<div class="t" style="top:893.51px;font-size:14.466px;line-height:14.466px;color:#f3f4f6;font-weight:400;font-family:'Liberation Mono', monospace;-webkit-text-stroke:0.35px currentColor;right:984.50px;">wlan0</div>
<div class="r" style="left:26px;top:931.2px;width:922px;height:45px;background:#374151;border-radius:4px;"></div>
<div class="t" style="top:945.55px;font-size:14.466px;line-height:14.466px;color:#9ca3af;font-weight:400;font-family:'Liberation Sans', sans-serif;-webkit-text-stroke:0.2px currentColor;left:38.80px;">MAC Address:</div>
<div class="t" style="top:946.71px;font-size:14.466px;line-height:14.466px;color:#f3f4f6;font-weight:400;font-family:'Liberation Mono', monospace;-webkit-text-stroke:0.35px currentColor;right:984.50px;">88:a2:9e:28:8d:9e</div>
<div class="r" style="left:26px;top:984.5px;width:922px;height:45px;background:#374151;border-radius:4px;"></div>
<div class="t" style="top:998.95px;font-size:14.466px;line-height:14.466px;color:#9ca3af;font-weight:400;font-family:'Liberation Sans', sans-serif;-webkit-text-stroke:0.2px currentColor;left:38.80px;">Queue Discipline:</div>
<div class="t" style="top:1000.11px;font-size:14.466px;line-height:14.466px;color:#f3f4f6;font-weight:400;font-family:'Liberation Mono', monospace;-webkit-text-stroke:0.35px currentColor;right:984.50px;">fq_codel</div>
<div class="r" style="left:964px;top:877.2px;width:922px;height:67.4px;background:rgba(30,58,138,0.2);border-radius:4px;border:1px solid #1e40af;box-sizing:border-box;"></div>
<div class="t" style="top:892.80px;font-size:12.4px;line-height:12.4px;color:#60a5fa;font-weight:700;font-family:'Liberation Sans', sans-serif;-webkit-text-stroke:0.2px currentColor;left:977.50px;">IPv4 Addresses</div>
<div class="t" style="top:917.70px;font-size:12.4px;line-height:12.4px;color:#93c5fd;font-weight:400;font-family:'Liberation Mono', monospace;-webkit-text-stroke:0.35px currentColor;left:977.50px;">172.20.5.159/24</div>
<div class="r" style="left:964px;top:953.3px;width:922px;height:67.5px;background:rgba(88,28,135,0.2);border-radius:4px;border:1px solid #6b21a8;box-sizing:border-box;"></div>
<div class="t" style="top:968.70px;font-size:12.4px;line-height:12.4px;color:#c084fc;font-weight:700;font-family:'Liberation Sans', sans-serif;-webkit-text-stroke:0.2px currentColor;left:977.50px;">IPv6 Addresses</div>
<div class="t" style="top:994.30px;font-size:12.4px;line-height:12.4px;color:#d8b4fe;font-weight:400;font-family:'Liberation Mono', monospace;-webkit-text-stroke:0.35px currentColor;left:977.50px;">fe80::8aa2:9eff:fe28:8d9e/64</div>
</div></body></html>
